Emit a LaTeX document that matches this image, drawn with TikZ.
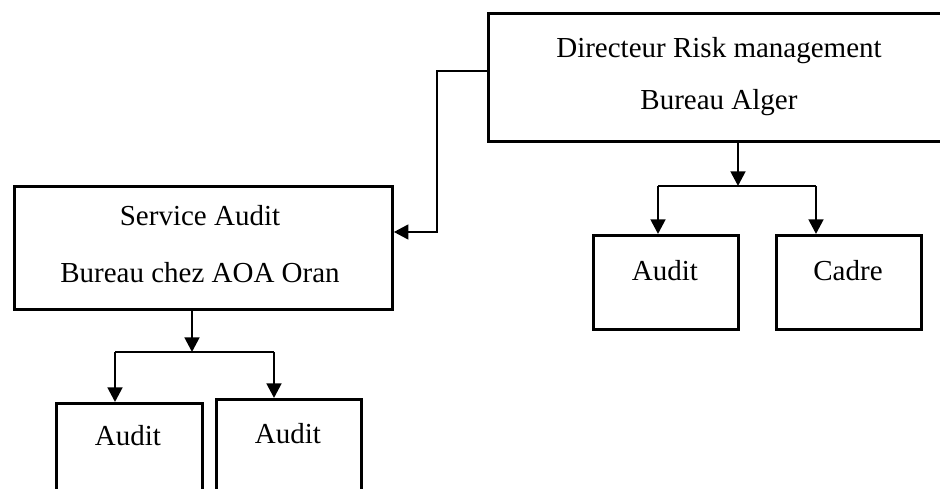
\documentclass[tikz,border=0pt]{standalone}
\usepackage{fontspec}
\setmainfont{Liberation Serif}
\usetikzlibrary{arrows.meta}
\begin{document}
\begin{tikzpicture}[x=0.75pt,y=-0.75pt,
  ln/.style={line width=2.1pt},
  arr/.style={ln,-{Triangle[length=11pt,width=11pt]}},
  box/.style={draw,line width=2.1pt,rectangle,inner sep=0pt,anchor=north west},
  lbl/.style={font=\fontsize{21.75}{26}\selectfont,inner sep=0pt,anchor=base}]
\useasboundingbox (0,0) rectangle (940,489);
\clip (0,0) rectangle (940,489);

% boxes
\node[box,minimum width=464*0.75pt,minimum height=128*0.75pt] (dir) at (487,12) {};
\node[box,minimum width=378*0.75pt,minimum height=123*0.75pt] (svc) at (13,185) {};
\node[box,minimum width=145*0.75pt,minimum height=94*0.75pt] (ra) at (592,234) {};
\node[box,minimum width=145*0.75pt,minimum height=94*0.75pt] (rc) at (775,234) {};
\node[box,minimum width=146*0.75pt,minimum height=130*0.75pt] (lb) at (55,402) {};
\node[box,minimum width=145*0.75pt,minimum height=130*0.75pt] (rb) at (215,398) {};

% labels
\node[lbl] (dirA) at (719,57) {Directeur Risk management};
\node[lbl] (dirB) at (719,109) {Bureau Alger};
\node[lbl] (svcA) at (200,225) {Service Audit};
\node[lbl] (svcB) at (200,282) {Bureau chez AOA Oran};
\node[lbl] (raT) at (665,280) {Audit};
\node[lbl] (rcT) at (848,280) {Cadre};
\node[lbl] (lbT) at (128,445) {Audit};
\node[lbl] (rbT) at (288,443) {Audit};

% junction points
\coordinate (jr) at (738,186);
\coordinate (jrl) at (658,186);
\coordinate (jrr) at (816,186);
\coordinate (sx) at (437,71);
\coordinate (sy) at (437,232);
\coordinate (jb) at (192,352);
\coordinate (jbl) at (115,352);
\coordinate (jbr) at (274,352);

% director to its two units
\draw[arr] (jr |- dir.south) -- (jr);
\draw[ln] (jrl) -- (jrr);
\draw[arr] (jrl) -- (jrl |- ra.north);
\draw[arr] (jrr) -- (jrr |- rc.north);

% director to audit service
\draw[arr] (sx -| dir.west) -- (sx) -- (sy) -- (sy -| svc.east);

% audit service to its two units
\draw[arr] (jb |- svc.south) -- (jb);
\draw[ln] (jbl) -- (jbr);
\draw[arr] (jbl) -- (jbl |- lb.north);
\draw[arr] (jbr) -- (jbr |- rb.north);
\end{tikzpicture}
\end{document}
